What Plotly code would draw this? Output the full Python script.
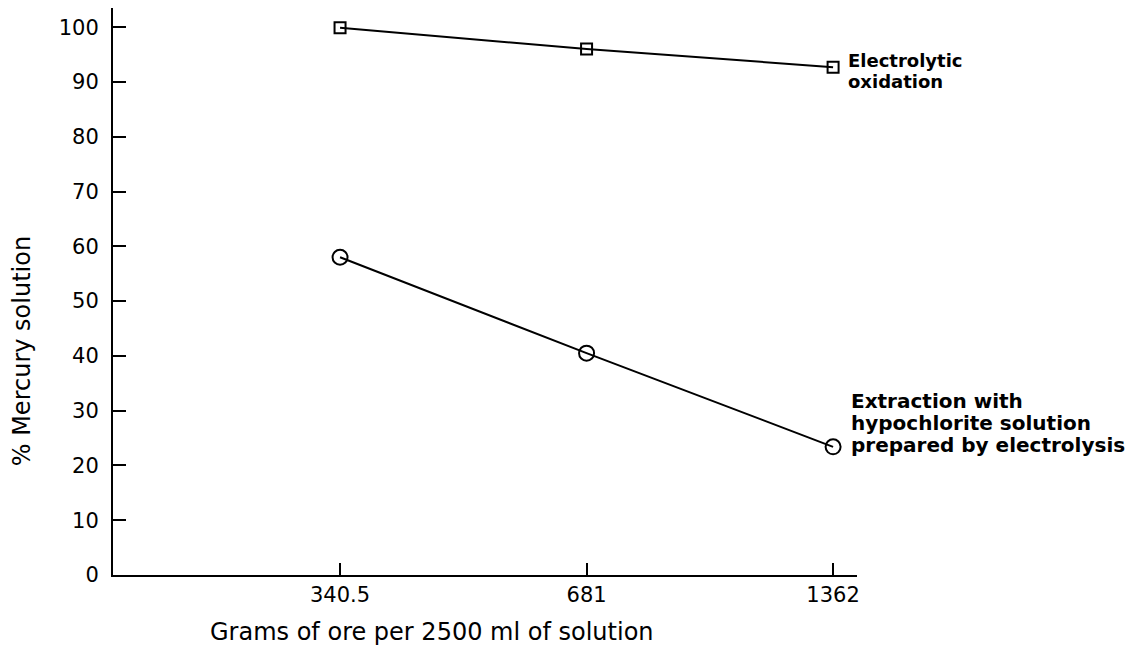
import plotly.graph_objects as go

categories = ["340.5", "681", "1362"]
electrolytic = [99.9, 96.0, 92.7]
hypochlorite = [58.0, 40.5, 23.4]
y_ticks = [0, 10, 20, 30, 40, 50, 60, 70, 80, 90, 100]
label_electro = ["Electrolytic", "oxidation"]
label_hypo = ["Extraction with", "hypochlorite solution", "prepared by electrolysis"]

FONT = "DejaVu Sans"
xpos = list(range(len(categories)))

fig = go.Figure()
fig.add_trace(go.Scatter(
    x=xpos, y=electrolytic, mode="lines+markers",
    line=dict(color="black", width=2),
    marker=dict(symbol="square-open", size=11, color="black", line=dict(width=2)),
    name="Electrolytic oxidation", showlegend=False))
fig.add_trace(go.Scatter(
    x=xpos, y=hypochlorite, mode="lines+markers",
    line=dict(color="black", width=2),
    marker=dict(symbol="circle-open", size=15, color="black", line=dict(width=2)),
    name="Extraction with hypochlorite", showlegend=False))

for txt, ys in zip(label_electro, [7, -14]):
    fig.add_annotation(x=xpos[-1], y=electrolytic[-1], xref="x", yref="y",
                       text=txt, showarrow=False, xanchor="left", yanchor="middle",
                       xshift=13, yshift=ys,
                       font=dict(family=FONT, size=18, color="black", weight="bold"))
for txt, ys in zip(label_hypo, [46, 24, 2]):
    fig.add_annotation(x=xpos[-1], y=hypochlorite[-1], xref="x", yref="y",
                       text=txt, showarrow=False, xanchor="left", yanchor="middle",
                       xshift=16, yshift=ys,
                       font=dict(family=FONT, size=20, color="black", weight="bold"))

fig.add_annotation(x=-0.122, y=0.395, xref="paper", yref="paper",
                   text="% Mercury solution", showarrow=False, textangle=-90,
                   xanchor="center", yanchor="middle",
                   font=dict(family=FONT, size=24, color="black"))
fig.add_annotation(x=0.429, y=-0.1, xref="paper", yref="paper",
                   text="Grams of ore per 2500 ml of solution", showarrow=False,
                   xanchor="center", yanchor="middle",
                   font=dict(family=FONT, size=24, color="black"))

fig.update_xaxes(range=[-0.921, 2.097], tickmode="array", tickvals=xpos, ticktext=categories,
                 showline=True, linecolor="black", linewidth=2, ticks="inside", ticklen=12,
                 tickwidth=2, tickcolor="black", showgrid=False, zeroline=False,
                 tickfont=dict(family=FONT, size=21, color="black"), ticklabelstandoff=0)
fig.update_yaxes(range=[0, 103.5], tickmode="array", tickvals=y_ticks,
                 showline=True, linecolor="black", linewidth=2, ticks="inside", ticklen=13,
                 tickwidth=2, tickcolor="black", showgrid=False, zeroline=False,
                 tickfont=dict(family=FONT, size=21, color="black"), ticklabelstandoff=8)

fig.update_layout(width=1140, height=662, plot_bgcolor="white", paper_bgcolor="white",
                  margin=dict(l=105, r=291, t=0, b=95, autoexpand=False))

fig.write_html("out.html")
